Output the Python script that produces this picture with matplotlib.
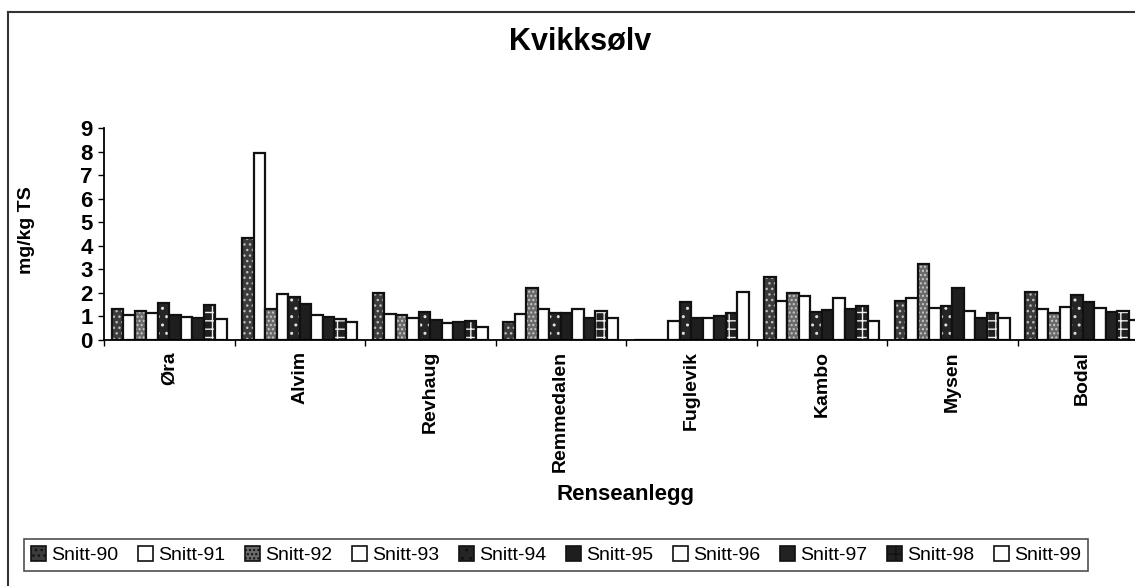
import matplotlib
matplotlib.use('Agg')
import matplotlib.pyplot as plt
import numpy as np
from matplotlib.lines import Line2D
from matplotlib.patches import Patch

plt.rcParams['font.family'] = ['Liberation Sans', 'DejaVu Sans']
plt.rcParams['hatch.linewidth'] = 1.0

steder = ['Øra', 'Alvim', 'Revhaug', 'Remmedalen', 'Fuglevik', 'Kambo', 'Mysen', 'Bodal']
serier = ['Snitt-90', 'Snitt-91', 'Snitt-92', 'Snitt-93', 'Snitt-94',
          'Snitt-95', 'Snitt-96', 'Snitt-97', 'Snitt-98', 'Snitt-99']

snitt_90 = [1.30, 4.34, 1.98, 0.78, 0.00, 2.69, 1.67, 2.05]
snitt_91 = [1.08, 7.95, 1.09, 1.09, 0.00, 1.67, 1.77, 1.30]
snitt_92 = [1.25, 1.30, 1.06, 2.22, 0.00, 1.98, 3.21, 1.13]
snitt_93 = [1.15, 1.97, 0.95, 1.30, 0.81, 1.87, 1.35, 1.39]
snitt_94 = [1.58, 1.81, 1.20, 1.15, 1.63, 1.18, 1.44, 1.91]
snitt_95 = [1.06, 1.53, 0.85, 1.16, 0.95, 1.27, 2.22, 1.60]
snitt_96 = [0.99, 1.06, 0.74, 1.30, 0.95, 1.77, 1.23, 1.35]
snitt_97 = [0.92, 0.98, 0.76, 0.95, 1.03, 1.30, 0.95, 1.18]
snitt_98 = [1.47, 0.89, 0.81, 1.22, 1.13, 1.44, 1.13, 1.23]
snitt_99 = [0.90, 0.76, 0.54, 0.95, 2.02, 0.81, 0.92, 0.85]

verdier = [snitt_90, snitt_91, snitt_92, snitt_93, snitt_94,
           snitt_95, snitt_96, snitt_97, snitt_98, snitt_99]

# (facecolor, hatch, hatch colour) per series - greyscale print look
stiler = [('#3c3c3c', '...', '#bdbdbd'),
          ('white', '', 'white'),
          ('#6a6a6a', '....', '#c8c8c8'),
          ('white', '', 'white'),
          ('#252525', '..', '#e0e0e0'),
          ('#1e1e1e', '', '#1e1e1e'),
          ('white', '', 'white'),
          ('#222222', '', '#222222'),
          ('#202020', '++', '#f0f0f0'),
          ('white', '', 'white')]

fig = plt.figure(figsize=(11.35, 5.86), dpi=100)
ax = fig.add_axes([104/1135, 1-340/586, 1044/1135, 211.7/586])

x = np.arange(len(steder)) + 0.5
w = 0.088
for j in range(len(serier)):
    fc, h, hc = stiler[j]
    pos = x + (j - 4.5) * w
    ax.bar(pos, verdier[j], w, color=fc, edgecolor=hc, hatch=h, linewidth=0)
    ax.bar(pos, verdier[j], w, color='none', edgecolor='#111111', linewidth=1.6)

ax.set_xlim(0, 8)
ax.set_ylim(0, 9)
ax.spines['top'].set_visible(False)
ax.spines['right'].set_visible(False)
ax.spines['left'].set_linewidth(1.3)
ax.spines['bottom'].set_linewidth(1.3)

ax.set_yticks(range(10))
ax.tick_params(axis='y', length=4, width=1, labelsize=16, pad=4)
for lab in ax.get_yticklabels():
    lab.set_fontweight('bold')

ax.set_xticks(x)
ax.set_xticklabels(steder, rotation=90, fontsize=14, fontweight='bold', va='top')
ax.set_xticks(np.arange(0, 9), minor=True)
ax.tick_params(axis='x', which='major', length=0, pad=8)
ax.tick_params(axis='x', which='minor', length=4, width=1)

ax.set_ylabel('mg/kg TS', fontsize=14, fontweight='bold')
ax.yaxis.set_label_coords(-0.066, 0.52)
ax.set_xlabel('Renseanlegg', fontsize=16, fontweight='bold')
ax.xaxis.set_label_coords(0.5, -0.68)

fig.text(580/1135, 1-42/586, 'Kvikksølv', fontsize=22, fontweight='bold',
         ha='center', va='center')

# chart frame (only left and top edges visible in the scan)
fig.add_artist(Line2D([8/1135, 8/1135], [0, 1-12/586], color='#333333', lw=1.5))
fig.add_artist(Line2D([8/1135, 1], [1-12/586, 1-12/586], color='#333333', lw=1.5))

handles = []
for j in range(len(serier)):
    fc, h, hc = stiler[j]
    handles.append(Patch(facecolor=fc, edgecolor='#111111', hatch=h, linewidth=1.2, label=serier[j]))
leg = fig.legend(handles=handles, loc='center', bbox_to_anchor=(556/1135, 1-555/586),
                 ncol=10, fontsize=14, frameon=True, fancybox=False,
                 handlelength=0.8, handleheight=0.8, handletextpad=0.25,
                 columnspacing=1.0, borderpad=0.35)
leg.get_frame().set_edgecolor('#222222')
leg.get_frame().set_linewidth(1.2)

plt.savefig('out.png', dpi=100)
